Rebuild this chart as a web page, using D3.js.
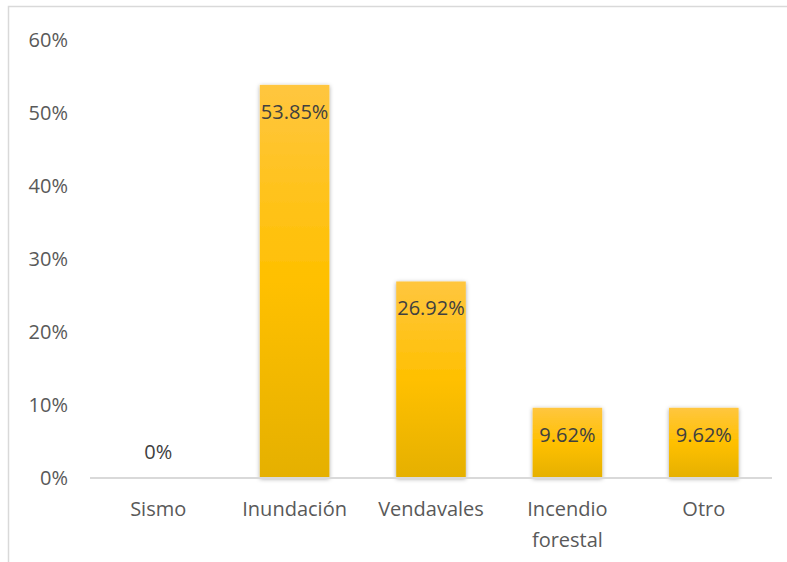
<!DOCTYPE html>
<html>
<head>
<meta charset="utf-8">
<script src="https://cdn.jsdelivr.net/npm/d3@7"></script>
<style>
body { margin: 0; background: #fff; }
svg { display: block; font-family: "Open Sans", sans-serif; }
</style>
</head>
<body>
<svg width="787" height="562"></svg>
<script>
const categories = ["Sismo", "Inundación", "Vendavales", "Incendio forestal", "Otro"]
const values = [0, 53.85, 26.92, 9.62, 9.62]
const valueLabels = ["0%", "53.85%", "26.92%", "9.62%", "9.62%"]
const yTicks = [0, 10, 20, 30, 40, 50, 60]

const svg = d3.select("svg")
const margin = {top: 40, right: 15, bottom: 84, left: 90}
const width = +svg.attr("width") - margin.left - margin.right
const height = +svg.attr("height") - margin.top - margin.bottom

// frame
svg.append("path")
    .attr("d", "M8.5,562 L8.5,6.5 L787,6.5")
    .attr("fill", "none")
    .attr("stroke", "#d9d9d9")
    .attr("stroke-width", 1.5)

const defs = svg.append("defs")
const grad = defs.append("linearGradient")
    .attr("id", "barGrad")
    .attr("x1", 0).attr("y1", 0).attr("x2", 0).attr("y2", 1)
grad.append("stop").attr("offset", "0%").attr("stop-color", "#ffc63f")
grad.append("stop").attr("offset", "50%").attr("stop-color", "#ffc000")
grad.append("stop").attr("offset", "100%").attr("stop-color", "#e5b000")

const shadow = defs.append("filter")
    .attr("id", "shadow")
    .attr("x", "-30%").attr("y", "-10%").attr("width", "160%").attr("height", "120%")
shadow.append("feDropShadow")
    .attr("dx", 0).attr("dy", 1)
    .attr("stdDeviation", 2)
    .attr("flood-color", "#000")
    .attr("flood-opacity", 0.35)

const chart = svg.append("g")
    .attr("transform", `translate(${margin.left},${margin.top})`)

const x = d3.scaleBand().domain(categories).range([0, width]).paddingInner(0.49).paddingOuter(0.245)
const y = d3.scaleLinear().domain([0, 60]).range([height, 0])

// y tick labels
chart.selectAll(".ytick")
    .data(yTicks)
    .join("text")
    .attr("class", "ytick")
    .attr("x", -22)
    .attr("y", d => y(d))
    .attr("dy", "0.35em")
    .attr("text-anchor", "end")
    .attr("fill", "#595959")
    .style("font-size", "20px")
    .text(d => d + "%")

chart.selectAll(".bar")
    .data(values)
    .join("rect")
    .attr("class", "bar")
    .attr("x", (d, i) => x(categories[i]))
    .attr("y", d => y(d))
    .attr("width", x.bandwidth())
    .attr("height", d => height - y(d))
    .attr("fill", "url(#barGrad)")
    .attr("filter", d => d > 0 ? "url(#shadow)" : null)

// baseline
chart.append("line")
    .attr("x1", 0).attr("x2", width)
    .attr("y1", height).attr("y2", height)
    .attr("stroke", "#d9d9d9")
    .attr("stroke-width", 2)

// value labels
chart.selectAll(".vlabel")
    .data(values)
    .join("text")
    .attr("class", "vlabel")
    .attr("x", (d, i) => x(categories[i]) + x.bandwidth() / 2)
    .attr("y", d => d > 0 ? y(d) + 34 : y(d) - 19)
    .attr("text-anchor", "middle")
    .attr("fill", "#404040")
    .style("font-size", "20px")
    .text((d, i) => valueLabels[i])

// category labels
const cat = chart.selectAll(".xlabel")
    .data(categories)
    .join("text")
    .attr("class", "xlabel")
    .attr("text-anchor", "middle")
    .attr("fill", "#595959")
    .style("font-size", "20px")
    .attr("transform", d => `translate(${x(d) + x.bandwidth() / 2},${height + 38})`)

cat.each(function(d) {
    const words = d === "Incendio forestal" ? ["Incendio", "forestal"] : [d]
    d3.select(this).selectAll("tspan")
        .data(words)
        .join("tspan")
        .attr("x", 0)
        .attr("dy", (w, i) => i === 0 ? 0 : "1.55em")
        .text(w => w)
})
</script>
</body>
</html>
